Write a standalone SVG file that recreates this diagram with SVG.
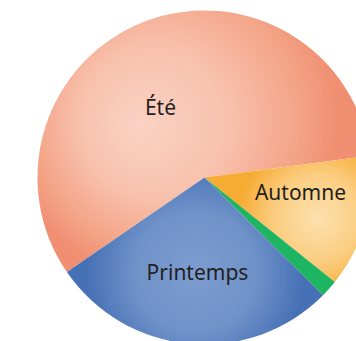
<svg xmlns="http://www.w3.org/2000/svg" width="356" height="341" viewBox="0 0 356 341">
<style>
.lbl{font-family:"Noto Sans","Open Sans",sans-serif;font-size:21px;fill:#231f20;text-anchor:middle}
</style>
<defs>
<radialGradient id="gE" gradientUnits="userSpaceOnUse" cx="172" cy="117" r="166" fx="140" fy="127">
<stop offset="0" stop-color="#fad2c4"/>
<stop offset="0.45" stop-color="#f8c1ad"/>
<stop offset="0.8" stop-color="#f4a487"/>
<stop offset="1" stop-color="#f08f72"/>
</radialGradient>
<radialGradient id="gA" gradientUnits="userSpaceOnUse" cx="318" cy="218" r="80">
<stop offset="0" stop-color="#fce1b0"/>
<stop offset="0.55" stop-color="#fbcd80"/>
<stop offset="1" stop-color="#f6ab33"/>
</radialGradient>
<radialGradient id="gP" gradientUnits="userSpaceOnUse" cx="195" cy="272" r="110">
<stop offset="0" stop-color="#7d9dd0"/>
<stop offset="0.55" stop-color="#6f92c8"/>
<stop offset="1" stop-color="#4670b6"/>
</radialGradient>
</defs>
<g id="ete"><path d="M204.5,177.5 L66.87,272.09 A167,167 0 1 1 370.07,155.7 Z" fill="url(#gE)"/><text class="lbl" x="160.5" y="115">Été</text></g>
<g id="automne"><path d="M204.5,177.5 L370.07,155.7 A167,167 0 0 1 334.83,281.91 Z" fill="url(#gA)"/><text class="lbl" x="300.5" y="200">Automne</text></g>
<g id="hiver"><path d="M204.5,177.5 L334.83,281.91 A167,167 0 0 1 323,295.17 Z" fill="#1db462"/></g>
<g id="printemps"><path d="M204.5,177.5 L323,295.17 A167,167 0 0 1 66.87,272.09 Z" fill="url(#gP)"/><text class="lbl" x="197.5" y="280">Printemps</text></g>
<g id="connectors"/>
</svg>
